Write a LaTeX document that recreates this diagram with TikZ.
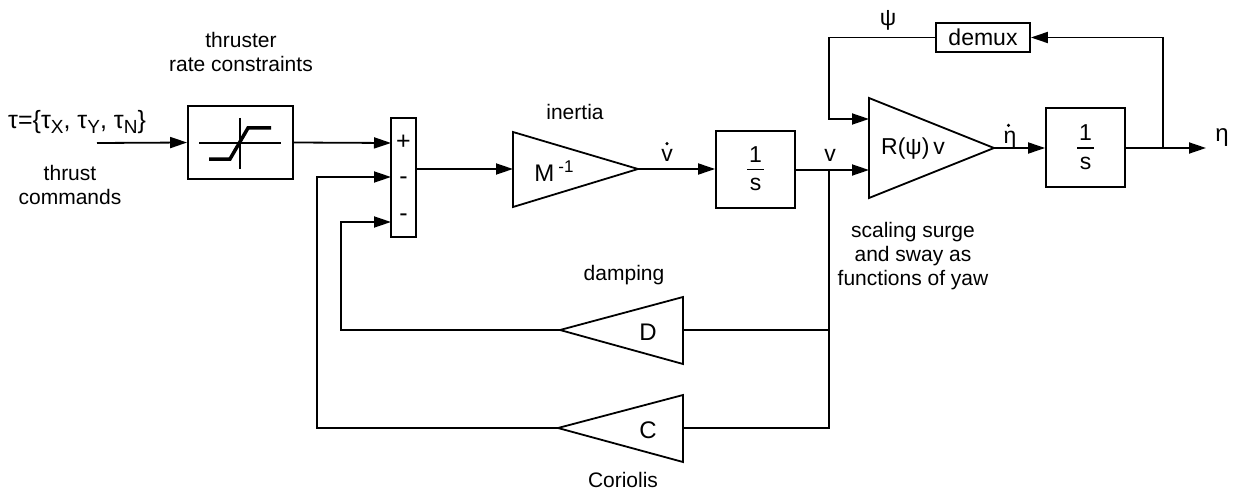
\documentclass[tikz,border=0pt]{standalone}
\usepackage{fontspec}
\setmainfont{Liberation Sans}
\usetikzlibrary{arrows.meta}
\newcommand\sbs[1]{\raisebox{-0.22em}{\fontsize{19}{19}\selectfont #1}}
\tikzset{
  wire/.style={line width=1.8pt},
  arr/.style={wire,-{Triangle[length=17pt,width=11pt]}},
  blockbox/.style={draw,line width=1.8pt,inner sep=0pt},
  note/.style={font=\fontsize{21}{24}\selectfont,align=center,inner sep=0pt},
  lab/.style={font=\fontsize{23}{26}\selectfont,inner sep=0pt},
  sign/.style={font=\fontsize{25}{26}\selectfont,inner sep=0pt},
  gain/.style={draw,line width=1.8pt,line join=miter},
  dotmark/.style={fill=black},
}
\begin{document}
\begin{tikzpicture}[x=1pt,y=-1pt]
\useasboundingbox (0,0) rectangle (1236,492);
% ---- input
\node[lab,anchor=west,font=\fontsize{25}{26}\selectfont] (tau) at (8,122)
  {τ=\{τ\sbs{X}, τ\sbs{Y}, τ\sbs{N}\}};
\node[note] (thrust) at (70,185) {thrust\\commands};
\coordinate (in) at (97,143);
% ---- saturation
\node[blockbox,minimum width=105pt,minimum height=73pt] (sat) at (240.5,142.5) {};
\draw[line width=1.2pt] (199,143) -- (281,143);
\draw[line width=1.2pt] (240,118) -- (240,169);
\draw[line width=3.5pt] (209,159) -- (230,159) -- (248,128) -- (271,128);
\node[note] (satlab) at (241,52) {thruster\\rate constraints};
\draw[arr] (in) -- (sat.west);
% ---- sum
\node[blockbox,minimum width=25pt,minimum height=119pt] (sum) at (403.5,177.5) {};
\node[sign] (sp) at (403.5,142) {+};
\node[sign] (sm1) at (403.5,181) {-};
\node[sign] (sm2) at (403.5,218) {-};
\coordinate (s1) at (391,143);
\coordinate (s2) at (391,177);
\coordinate (s3) at (391,222);
\coordinate (sout) at (416,169);
\draw[arr] (sat.east) -- (s1);
% ---- inertia
\coordinate (M1) at (513,132);
\coordinate (M2) at (513,207);
\coordinate (Min) at (513,169);
\coordinate (Mtip) at (638,169);
\draw[gain] (M1) -- (Mtip) -- (M2) -- cycle;
\node[lab,font=\fontsize{24}{26}\selectfont] (Mlab) at (554,171)
  {M\,\raisebox{0.4em}{\fontsize{17}{17}\selectfont -1}};
\node[note] (inertia) at (575,112) {inertia};
\draw[arr] (sout) -- (Min);
% ---- integrator 1
\node[blockbox,minimum width=79pt,minimum height=77pt] (int1) at (755.5,169.5) {};
\node[lab] (one1) at (755.5,155) {1};
\node[lab] (s1lab) at (755.5,184) {s};
\draw[line width=1.2pt] (747,169.5) -- (764,169.5);
\draw[arr] (Mtip) -- (Mtip -| int1.west);
\node[lab,anchor=base] (vdot) at (667,161) {v};
\fill[dotmark] ([yshift=5pt]vdot.north) circle (1.7pt);
% ---- rotation
\coordinate (R1) at (869,98);
\coordinate (R2) at (869,198);
\coordinate (Rtip) at (994,148);
\coordinate (Rpsi) at (869,119);
\coordinate (Rv) at (869,170);
\draw[gain] (R1) -- (Rtip) -- (R2) -- cycle;
\node[lab] (Rlab) at (913,149) {R(ψ)\,v};
\coordinate (J) at (829,170);
\draw[arr] (int1.east |- Rv) -- (Rv);
\node[lab,anchor=base] (vlab) at (830,161) {v};
\node[note] (scal) at (913,256) {scaling surge\\and sway as\\functions of yaw};
% ---- integrator 2
\node[blockbox,minimum width=79pt,minimum height=79pt] (int2) at (1085.5,147.5) {};
\node[lab] (one2) at (1085.5,133) {1};
\node[lab] (s2lab) at (1085.5,163) {s};
\draw[line width=1.2pt] (1077,148) -- (1094,148);
\draw[arr] (Rtip) -- (Rtip -| int2.west);
\node[lab,anchor=base] (etadot) at (1010,143) {η};
\fill[dotmark] ([xshift=-1.5pt,yshift=5pt]etadot.north) circle (1.7pt);
\coordinate (out) at (1206,148);
\coordinate (B) at (1163,148);
\draw[arr] (int2.east |- out) -- (out);
\node[lab,anchor=base,font=\fontsize{24}{26}\selectfont] (eta) at (1222,142) {η};
% ---- demux loop
\node[blockbox,minimum width=94pt,minimum height=29pt,lab] (demux) at (983,37.5) {demux};
\draw[arr] (B) -- (B |- demux.east) -- (demux.east);
\draw[arr] (demux.west) -- (829,37.5) -- (829 ,119) -- (Rpsi);
\node[lab] (psi) at (888,20) {ψ};
% ---- feedback
\coordinate (Dtip) at (560,330);
\coordinate (D1) at (683,297);
\coordinate (D2) at (683,364);
\coordinate (Dr) at (683,330);
\draw[gain] (D1) -- (Dtip) -- (D2) -- cycle;
\node[lab,font=\fontsize{24}{26}\selectfont] (Dlab) at (648,332) {D};
\node[note] (damp) at (624,275) {damping};
\coordinate (Ctip) at (558,428);
\coordinate (C1) at (683,395);
\coordinate (C2) at (683,462);
\coordinate (Cr) at (683,428);
\draw[gain] (C1) -- (Ctip) -- (C2) -- cycle;
\node[lab,font=\fontsize{24}{26}\selectfont] (Clab) at (648,430) {C};
\node[note] (cor) at (623,480) {Coriolis};
\draw[wire] (J) -- (J |- Cr) -- (Cr);
\draw[wire] (J |- Dr) -- (Dr);
\draw[arr] (Dtip) -- (341,330) -- (341,222) -- (s3);
\draw[arr] (Ctip) -- (317,428) -- (317,177) -- (s2);
\end{tikzpicture}
\end{document}
